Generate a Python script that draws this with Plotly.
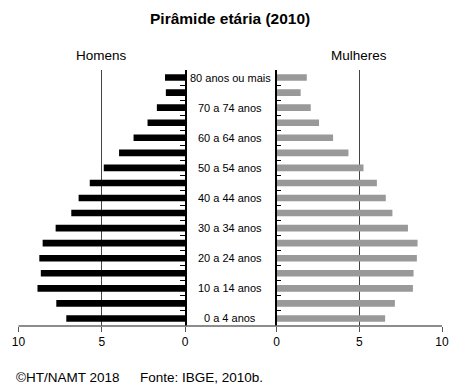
import plotly.graph_objects as go

# Age groups, bottom (youngest) to top (oldest)
age_groups = ["0 a 4 anos", "5 a 9 anos", "10 a 14 anos", "15 a 19 anos", "20 a 24 anos",
              "25 a 29 anos", "30 a 34 anos", "35 a 39 anos", "40 a 44 anos", "45 a 49 anos",
              "50 a 54 anos", "55 a 59 anos", "60 a 64 anos", "65 a 69 anos", "70 a 74 anos",
              "75 a 79 anos", "80 anos ou mais"]
# Percent of population
homens = [7.13, 7.73, 8.86, 8.66, 8.75, 8.55, 7.77, 6.83, 6.39, 5.72,
          4.88, 3.96, 3.09, 2.25, 1.69, 1.15, 1.2]
mulheres = [6.56, 7.15, 8.24, 8.28, 8.48, 8.52, 7.94, 7.0, 6.6, 6.06,
            5.25, 4.34, 3.41, 2.56, 2.06, 1.45, 1.82]
shown_labels = ["0 a 4 anos", "10 a 14 anos", "20 a 24 anos", "30 a 34 anos", "40 a 44 anos",
                "50 a 54 anos", "60 a 64 anos", "70 a 74 anos", "80 anos ou mais"]
x_ticks = [0, 5, 10]

W, H = 460, 388
OFF = 8  # page body margin offset
FONT = "Liberation Sans, Arial, sans-serif"
left_dom = [(18.5 - OFF) / W, (185 - OFF) / W]
right_dom = [(276.7 - OFF) / W, (442 - OFF) / W]
TOP = 70 - OFF
BOT = 326 - OFF

fig = go.Figure()
fig.add_trace(go.Bar(y=age_groups, x=homens, orientation="h", xaxis="x", yaxis="y",
                     marker=dict(color="#000000", line=dict(width=0)), width=0.44,
                     showlegend=False))
fig.add_trace(go.Bar(y=age_groups, x=mulheres, orientation="h", xaxis="x2", yaxis="y2",
                     marker=dict(color="#999999", line=dict(width=0)), width=0.44,
                     showlegend=False))

xcommon = dict(tickvals=x_ticks, ticks="outside", ticklen=5, tickcolor="#555",
               tickwidth=1, showgrid=True, gridcolor="#444", gridwidth=1, zeroline=False,
               showline=False, tickfont=dict(size=12, color="#000", family=FONT),
               fixedrange=True, automargin=False)
fig.update_layout(
    xaxis=dict(domain=left_dom, anchor="y", range=[10, 0], autorange=False, **xcommon),
    xaxis2=dict(domain=right_dom, anchor="y2", range=[0, 10], autorange=False, **xcommon),
)

ycommon = dict(type="category", categoryorder="array", categoryarray=age_groups,
               range=[-0.5, len(age_groups) - 0.5], tickson="boundaries", ticks="inside",
               ticklen=5, tickcolor="#000", tickwidth=1, showticklabels=False, showline=True,
               linecolor="#000", linewidth=1.5, showgrid=False, fixedrange=True,
               automargin=False)
fig.update_layout(
    yaxis=dict(domain=[0, 1], anchor="x", side="right", **ycommon),
    yaxis2=dict(domain=[0, 1], anchor="x2", side="left", **ycommon),
)

# bottom axis line across both panels
fig.add_shape(type="line", xref="paper", yref="paper", x0=left_dom[0], x1=right_dom[1],
              y0=0, y1=0, line=dict(color="#666", width=1.5))

mid_x = (230 - OFF) / W
annotations = []
for lab in shown_labels:
    annotations.append(dict(text=lab, x=mid_x, xref="paper", y=lab, yref="y",
                            showarrow=False, xanchor="center", yanchor="middle",
                            font=dict(size=11, color="#000", family=FONT)))
annotations += [
    dict(text="<b>Pirâmide etária (2010)</b>", x=(230 - OFF) / W, y=1, xref="paper", yref="paper",
         yshift=TOP - (18 - OFF), showarrow=False, xanchor="center", yanchor="middle",
         font=dict(size=15.5, color="#000", family=FONT)),
    dict(text="Homens", x=(left_dom[0] + left_dom[1]) / 2, y=1, xref="paper", yref="paper",
         yshift=TOP - (55 - OFF), showarrow=False, xanchor="center", yanchor="middle",
         font=dict(size=13.5, color="#000", family=FONT)),
    dict(text="Mulheres", x=(right_dom[0] + right_dom[1]) / 2, y=1, xref="paper", yref="paper",
         yshift=TOP - (55 - OFF), showarrow=False, xanchor="center", yanchor="middle",
         font=dict(size=13.5, color="#000", family=FONT)),
    dict(text="©HT/NAMT 2018", x=(14 - OFF) / W, y=0, xref="paper",
         yref="paper", yshift=-(377 - 326), showarrow=False, xanchor="left", yanchor="middle",
         font=dict(size=13.5, color="#000", family=FONT)),
    dict(text="Fonte: IBGE, 2010b.", x=(138 - OFF) / W, y=0, xref="paper",
         yref="paper", yshift=-(377 - 326), showarrow=False, xanchor="left", yanchor="middle",
         font=dict(size=13.5, color="#000", family=FONT)),
]

fig.update_layout(
    width=W, height=H,
    margin=dict(l=0, r=0, t=TOP, b=H - BOT, autoexpand=False),
    paper_bgcolor="white", plot_bgcolor="white",
    annotations=annotations,
    font=dict(family=FONT, color="#000"),
)

fig.write_html("out.html")
